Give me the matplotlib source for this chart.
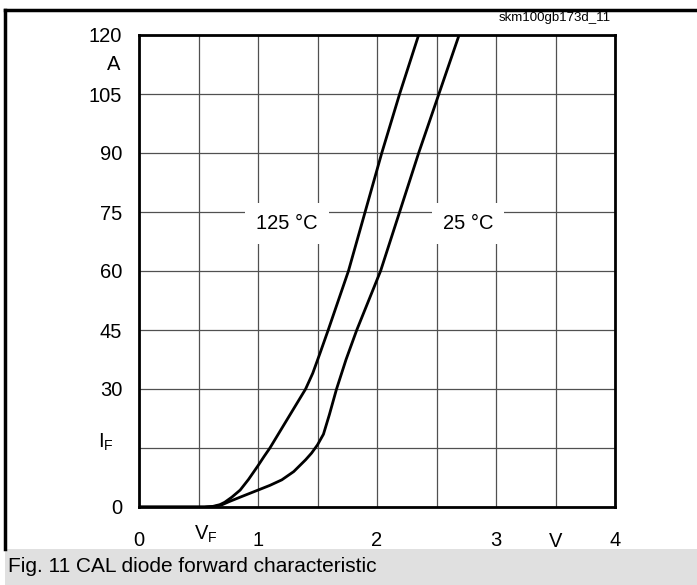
import numpy as np
import matplotlib
matplotlib.use("Agg")
import matplotlib.pyplot as plt
from matplotlib.patches import Rectangle
from matplotlib.lines import Line2D

plt.rcParams['font.family'] = ['Liberation Sans', 'DejaVu Sans']

# forward characteristic
vf_125 = [0.0, 0.55, 0.62, 0.68, 0.72, 0.78, 0.85, 0.92, 1.0, 1.05, 1.10, 1.17, 1.25,
          1.33, 1.40, 1.46, 1.52, 1.59, 1.76, 1.90, 2.04, 2.19, 2.35]
if_125 = [0.0, 0.0, 0.15, 0.6, 1.2, 2.5, 4.3, 7.0, 10.5, 12.8, 15.0, 18.5, 22.5,
          26.5, 30.0, 34.0, 39.0, 45.0, 60.0, 75.0, 90.0, 105.0, 120.0]

vf_25 = [0.0, 0.55, 0.64, 0.70, 0.76, 0.85, 1.0, 1.1, 1.2, 1.3, 1.4, 1.45, 1.5, 1.55,
         1.60, 1.66, 1.74, 1.83, 2.03, 2.19, 2.35, 2.52, 2.69]
if_25 = [0.0, 0.0, 0.15, 0.6, 1.4, 2.5, 4.3, 5.5, 6.9, 9.0, 12.0, 13.7, 15.8, 18.5,
         23.5, 30.0, 37.5, 45.0, 60.0, 75.0, 90.0, 105.0, 120.0]

x_ticks = [0, 0.5, 1, 1.5, 2, 2.5, 3, 3.5, 4]
x_labels = ['0', '', '1', '', '2', '', '3', '', '4']
y_ticks = [0, 15, 30, 45, 60, 75, 90, 105, 120]
y_labels = ['0', '', '30', '45', '60', '75', '90', '105', '120']

fig = plt.figure(figsize=(6.97, 5.85), dpi=100)
ax = fig.add_axes([139/697, 78/585, 476/697, 472/585])

ax.plot(vf_125, if_125, color='black', lw=2, solid_capstyle='round')
ax.plot(vf_25, if_25, color='black', lw=2, solid_capstyle='round')

ax.set_xlim(0, 4)
ax.set_ylim(0, 120)
ax.set_xticks(x_ticks, x_labels)
ax.set_yticks(y_ticks, y_labels)
ax.tick_params(axis='both', which='both', length=0, labelsize=14.5)
ax.tick_params(axis='x', pad=17)
ax.tick_params(axis='y', pad=12)
ax.grid(True, which='major', color='#505050', lw=0.9)
for s in ax.spines.values():
    s.set_linewidth(2)
    s.set_zorder(5)

# axis symbols / units placed like the datasheet
ax.text(-0.16, 112.5, 'A', ha='right', va='center', fontsize=14.5, clip_on=False)
ax.text(-0.215, 15, r'$\mathregular{I_F}$', ha='right', va='baseline', fontsize=14.5, clip_on=False)
ax.text(0.56, -8.4, r'$\mathregular{V_F}$', ha='center', va='baseline', fontsize=14.5, clip_on=False)
ax.text(3.5, -10.2, 'V', ha='center', va='baseline', fontsize=14.5, clip_on=False)

box = dict(facecolor='white', edgecolor='none', boxstyle='square,pad=0.55')
ax.text(1.244, 72.0, '125 °C', ha='center', va='center', fontsize=14.5, bbox=box, zorder=4)
ax.text(2.765, 72.0, '25 °C', ha='center', va='center', fontsize=14.5, bbox=box, zorder=4)

# page frame and caption band
fig.add_artist(Line2D([5/697, 1], [1 - 10/585, 1 - 10/585], color='black', lw=2.5))
fig.add_artist(Line2D([5/697, 5/697], [36/585, 1 - 10/585], color='black', lw=2.5))
fig.add_artist(Rectangle((5/697, 0), 1 - 5/697, 36/585, transform=fig.transFigure,
                         facecolor='#e0e0e0', edgecolor='none'))
fig.text(8/697, 19/585, 'Fig. 11 CAL diode forward characteristic', ha='left', va='center',
         fontsize=15)
fig.text(555/697, 1 - 18/585, 'skm100gb173d_11', ha='center', va='center', fontsize=9.5)

fig.savefig('out.png', dpi=100)
